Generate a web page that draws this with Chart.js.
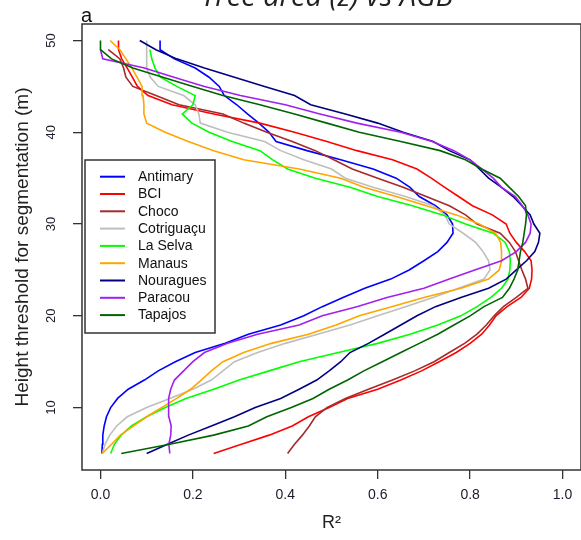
<!DOCTYPE html>
<html>
<head>
<meta charset="utf-8">
<script src="https://cdn.jsdelivr.net/npm/chart.js@4"></script>
<style>
  html, body { margin: 0; padding: 0; background: #fff; }
  #wrap { width: 581px; height: 540px; }
</style>
</head>
<body>
<div id="wrap"><canvas id="chart" width="581" height="540"></canvas></div>
<script>
// Height threshold (m) for each value in the site arrays below
const heights = [5, 6, 7, 8, 9, 10, 11, 12, 13, 14, 15, 16, 17, 18, 19, 20, 21, 22, 23, 24, 25, 26, 27,
  28, 29, 30, 31, 32, 33, 34, 35, 36, 37, 38, 39, 40, 41, 42, 43, 44, 45, 46, 47, 48, 49, 50];
const xTicks = [0, 0.2, 0.4, 0.6, 0.8, 1.0];
const yTicks = [10, 20, 30, 40, 50];

const sites = ['Antimary', 'BCI', 'Choco', 'Cotriguaçu', 'La Selva', 'Manaus', 'Nouragues', 'Paracou', 'Tapajos'];
const colours = ['#0000ff', '#ff0000', '#a52a2a', '#bebebe', '#00ff00', '#ffa500', '#000080', '#a020f0', '#006400'];

// R² per height threshold (null = no value)
const antimary = [0.003, 0.004, 0.005, 0.008, 0.013, 0.022, 0.037, 0.06, 0.095, 0.125, 0.162, 0.205, 0.27, 0.32,
  0.39, 0.44, 0.48, 0.525, 0.572, 0.628, 0.668, 0.7, 0.73, 0.75, 0.763, 0.762, 0.75, 0.725, 0.69, 0.67,
  0.64, 0.59, 0.52, 0.447, 0.38, 0.365, 0.343, 0.318, 0.295, 0.268, 0.257, 0.235, 0.205, 0.16, 0.129, 0.129];
const bci = [0.245, 0.305, 0.365, 0.415, 0.45, 0.495, 0.535, 0.6, 0.65, 0.695, 0.733, 0.77, 0.8, 0.825,
  0.842, 0.856, 0.88, 0.91, 0.928, 0.933, 0.934, 0.932, 0.918, 0.9, 0.886, 0.878, 0.848, 0.805, 0.775, 0.745,
  0.716, 0.685, 0.632, 0.555, 0.49, 0.42, 0.345, 0.245, 0.155, 0.103, 0.08, 0.069, 0.058, 0.046, 0.039, 0.039];
const choco = [0.405, 0.42, 0.437, 0.452, 0.465, 0.49, 0.53, 0.58, 0.632, 0.68, 0.722, 0.755, 0.788, 0.815,
  0.835, 0.852, 0.872, 0.9, 0.925, 0.92, 0.912, 0.905, 0.898, 0.885, 0.865, 0.815, 0.79, 0.755, 0.705, 0.655,
  0.6, 0.545, 0.505, 0.465, 0.415, 0.36, 0.31, 0.265, 0.17, 0.12, 0.07, 0.055, 0.05, 0.042, 0.017, null];
const cotriguacu = [0.004, 0.01, 0.02, 0.035, 0.058, 0.1, 0.15, 0.2, 0.24, 0.265, 0.29, 0.34, 0.4, 0.47,
  0.54, 0.6, 0.66, 0.72, 0.775, 0.83, 0.843, 0.84, 0.828, 0.812, 0.785, 0.755, 0.745, 0.72, 0.66, 0.59,
  0.53, 0.5, 0.44, 0.39, 0.355, 0.275, 0.216, 0.213, 0.205, 0.18, 0.125, 0.108, 0.1, 0.1, 0.1, 0.1];
const laSelva = [0.022, 0.03, 0.045, 0.067, 0.1, 0.14, 0.185, 0.245, 0.3, 0.365, 0.43, 0.515, 0.6, 0.67,
  0.73, 0.78, 0.815, 0.845, 0.868, 0.882, 0.886, 0.887, 0.885, 0.876, 0.85, 0.79, 0.74, 0.675, 0.6, 0.54,
  0.465, 0.405, 0.373, 0.345, 0.285, 0.235, 0.198, 0.177, 0.2, 0.205, 0.165, 0.13, 0.118, 0.111, 0.107, null];
const manaus = [0.004, 0.024, 0.043, 0.072, 0.1, 0.132, 0.165, 0.195, 0.218, 0.24, 0.265, 0.31, 0.37, 0.45,
  0.51, 0.56, 0.63, 0.7, 0.78, 0.84, 0.863, 0.868, 0.868, 0.866, 0.855, 0.82, 0.77, 0.705, 0.64, 0.57,
  0.52, 0.43, 0.31, 0.245, 0.19, 0.14, 0.1, 0.094, 0.094, 0.092, 0.09, 0.079, 0.068, 0.055, 0.042, 0.021];
const nouragues = [0.1, 0.145, 0.19, 0.24, 0.29, 0.335, 0.39, 0.43, 0.468, 0.495, 0.52, 0.54, 0.58, 0.615,
  0.65, 0.685, 0.725, 0.78, 0.84, 0.878, 0.9, 0.922, 0.94, 0.948, 0.951, 0.938, 0.93, 0.912, 0.893, 0.868,
  0.84, 0.82, 0.8, 0.755, 0.72, 0.655, 0.6, 0.53, 0.455, 0.42, 0.355, 0.29, 0.225, 0.165, 0.12, 0.085];
const paracou = [0.15, 0.148, 0.152, 0.153, 0.148, 0.147, 0.148, 0.152, 0.16, 0.18, 0.2, 0.225, 0.275, 0.34,
  0.43, 0.48, 0.555, 0.62, 0.7, 0.755, 0.81, 0.868, 0.9, 0.92, 0.93, 0.932, 0.925, 0.913, 0.898, 0.868,
  0.85, 0.825, 0.8, 0.765, 0.718, 0.65, 0.555, 0.475, 0.4, 0.303, 0.225, 0.159, 0.095, 0.005, 0.0, null];
const tapajos = [0.045, 0.15, 0.245, 0.32, 0.36, 0.413, 0.46, 0.495, 0.535, 0.57, 0.61, 0.65, 0.69, 0.73,
  0.765, 0.8, 0.83, 0.87, 0.885, 0.895, 0.903, 0.906, 0.909, 0.914, 0.917, 0.92, 0.922, 0.92, 0.905, 0.885,
  0.865, 0.825, 0.79, 0.735, 0.65, 0.56, 0.49, 0.42, 0.345, 0.265, 0.2, 0.135, 0.07, 0.024, 0.0, 0.0];

const series = [antimary, bci, choco, cotriguacu, laSelva, manaus, nouragues, paracou, tapajos];

const FONT = '"Liberation Sans", Arial, sans-serif';

// box, legend, title and panel letter, R base-graphics style
const decorations = {
  id: 'decorations',
  afterDraw(chart) {
    const { ctx, chartArea: a } = chart;
    ctx.save();
    ctx.strokeStyle = '#333';
    ctx.lineWidth = 1.5;
    ctx.strokeRect(a.left, a.top, a.right - a.left, a.bottom - a.top);

    // legend box
    const lx = 85, ly = 160, lw = 130, lh = 173, step = 17.3;
    ctx.fillStyle = '#fff';
    ctx.fillRect(lx, ly, lw, lh);
    ctx.strokeRect(lx, ly, lw, lh);
    ctx.font = '14px ' + FONT;
    ctx.textBaseline = 'middle';
    ctx.textAlign = 'left';
    chart.data.datasets.forEach((ds, i) => {
      const y = ly + 16.7 + i * step;
      ctx.strokeStyle = ds.borderColor;
      ctx.lineWidth = 2;
      ctx.beginPath();
      ctx.moveTo(lx + 15, y);
      ctx.lineTo(lx + 40, y);
      ctx.stroke();
      ctx.fillStyle = '#111';
      ctx.fillText(ds.label, lx + 53, y + 0.5);
    });

    // title, cut off by the top edge
    ctx.fillStyle = '#222';
    ctx.textBaseline = 'alphabetic';
    ctx.textAlign = 'center';
    ctx.font = 'italic 29px "Open Sans", sans-serif';
    ctx.fillText('Tree area (z) vs AGB', 327, 5.5);

    ctx.fillStyle = '#111';
    ctx.textAlign = 'left';
    ctx.font = '20px ' + FONT;
    ctx.fillText('a', 81, 21.5);
    ctx.restore();
  }
};

const tickGrid = {
  display: true, drawOnChartArea: false, drawTicks: true,
  tickLength: 9, color: '#333', lineWidth: 1.3
};

new Chart(document.getElementById('chart'), {
  type: 'scatter',
  data: {
    datasets: sites.map((name, k) => ({
      label: name,
      data: heights.map((h, i) => ({ x: series[k][i], y: h })).filter(p => p.x !== null),
      borderColor: colours[k],
      backgroundColor: colours[k],
      borderWidth: 1.6,
      showLine: true,
      pointRadius: 0,
      tension: 0,
      order: sites.length - k
    }))
  },
  options: {
    responsive: false,
    animation: false,
    devicePixelRatio: 1,
    layout: { padding: { top: 24, right: 0, bottom: 0, left: 0 } },
    plugins: { legend: { display: false }, tooltip: { enabled: false } },
    scales: {
      x: {
        type: 'linear', min: -0.04, max: 1.04,
        afterBuildTicks: s => { s.ticks = xTicks.map(v => ({ value: v })); },
        afterFit: s => { s.height = 70; },
        grid: tickGrid,
        border: { display: false },
        ticks: {
          color: '#1a1a2a', font: { family: FONT, size: 14 }, padding: 8,
          autoSkip: false, maxRotation: 0, callback: v => v.toFixed(1)
        },
        title: {
          display: true, text: 'R²', color: '#222',
          font: { family: FONT, size: 18 }, padding: { top: 0, bottom: 6 }
        }
      },
      y: {
        type: 'linear', min: 3.2, max: 51.8,
        afterBuildTicks: s => { s.ticks = yTicks.map(v => ({ value: v })); },
        afterFit: s => { s.width = 82; },
        grid: tickGrid,
        border: { display: false },
        ticks: {
          color: '#1a1a2a', font: { family: FONT, size: 13 }, padding: 14,
          autoSkip: false, minRotation: 90, maxRotation: 90, crossAlign: 'center',
          callback: v => String(v)
        },
        title: {
          display: true, text: 'Height threshold for segmentation (m)', color: '#222',
          font: { family: FONT, size: 19 }, padding: { top: 11, bottom: 0 }
        }
      }
    }
  },
  plugins: [decorations]
});
</script>
</body>
</html>
